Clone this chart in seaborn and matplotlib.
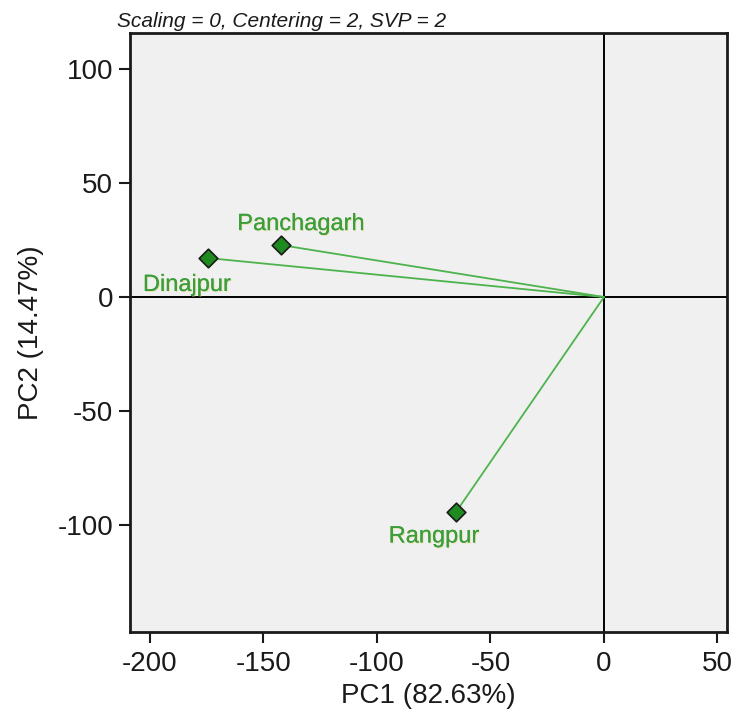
import matplotlib
matplotlib.use("Agg")
import matplotlib.pyplot as plt
import matplotlib.patheffects as pe
from matplotlib import font_manager
import seaborn as sns
import pandas as pd

# PCA scores of the three districts
districts = ["Dinajpur", "Panchagarh", "Rangpur"]
pc1 = [-174.4, -142.3, -65.2]
pc2 = [17.1, 22.8, -94.3]
# label offsets (data units) relative to each point
label_dx = [-9.3, 8.8, -9.7]
label_dy = [-11.8, 9.2, -10.7]

x_ticks = [-200, -150, -100, -50, 0, 50]
y_ticks = [-100, -50, 0, 50, 100]
x_title = "PC1 (82.63%)"
y_title = "PC2 (14.47%)"
subtitle = "Scaling = 0, Centering = 2, SVP = 2"

df = pd.DataFrame({"district": districts, "PC1": pc1, "PC2": pc2})

sns.set_style("white")
plt.rcParams["font.family"] = ["Liberation Sans", "DejaVu Sans"]
plt.rcParams["axes.unicode_minus"] = False

installed = {f.name for f in font_manager.fontManager.ttflist}
narrow = "Liberation Sans Narrow" if "Liberation Sans Narrow" in installed else "Liberation Sans"

fig = plt.figure(figsize=(7.35, 7.24), dpi=100)
ax = fig.add_axes([130 / 735, 1 - 632 / 724, 597 / 735, 599 / 724])
ax.set_facecolor("#f0f0f0")

line_green = "#4db34d"
label_green = "#3a9e3a"

ax.axhline(0, color="black", lw=1.4, zorder=1)
ax.axvline(0, color="black", lw=1.4, zorder=1)

for x, y in zip(df["PC1"], df["PC2"]):
    ax.plot([0, x], [0, y], color=line_green, lw=1.3, zorder=2)

sns.scatterplot(data=df, x="PC1", y="PC2", ax=ax, marker="D", s=90,
                color="#1f8a1f", edgecolor="#1a1a1a", linewidth=1.2, zorder=3)

for name, x, y, dx, dy in zip(districts, pc1, pc2, label_dx, label_dy):
    ax.text(x + dx, y + dy, name, color=label_green, fontsize=17,
            ha="center", va="center", zorder=4,
            path_effects=[pe.withSimplePatchShadow(offset=(0.7, -0.7),
                                                   shadow_rgbFace="#e0d070",
                                                   alpha=0.5),
                          pe.Normal()])

ax.set_xlim(-208.8, 54.2)
ax.set_ylim(-146.9, 115.8)
ax.set_xticks(x_ticks)
ax.set_yticks(y_ticks)
ax.tick_params(axis="both", labelsize=20, direction="out", length=8,
               width=1.5, color="#1a1a1a", labelcolor="#1a1a1a",
               bottom=True, left=True)
ax.tick_params(axis="x", pad=6)
ax.tick_params(axis="y", pad=4)
for s in ax.spines.values():
    s.set_color("#1a1a1a")
    s.set_linewidth(2)

ax.set_xlabel(x_title, fontsize=20, color="#1a1a1a", labelpad=4)
ax.set_ylabel(y_title, fontsize=20, color="#1a1a1a", labelpad=10)

fig.text(117 / 735, 1 - 27 / 724, subtitle, fontsize=15, style="italic",
         family=narrow, color="#1a1a1a", ha="left", va="baseline")

fig.savefig("out.png", dpi=100)
